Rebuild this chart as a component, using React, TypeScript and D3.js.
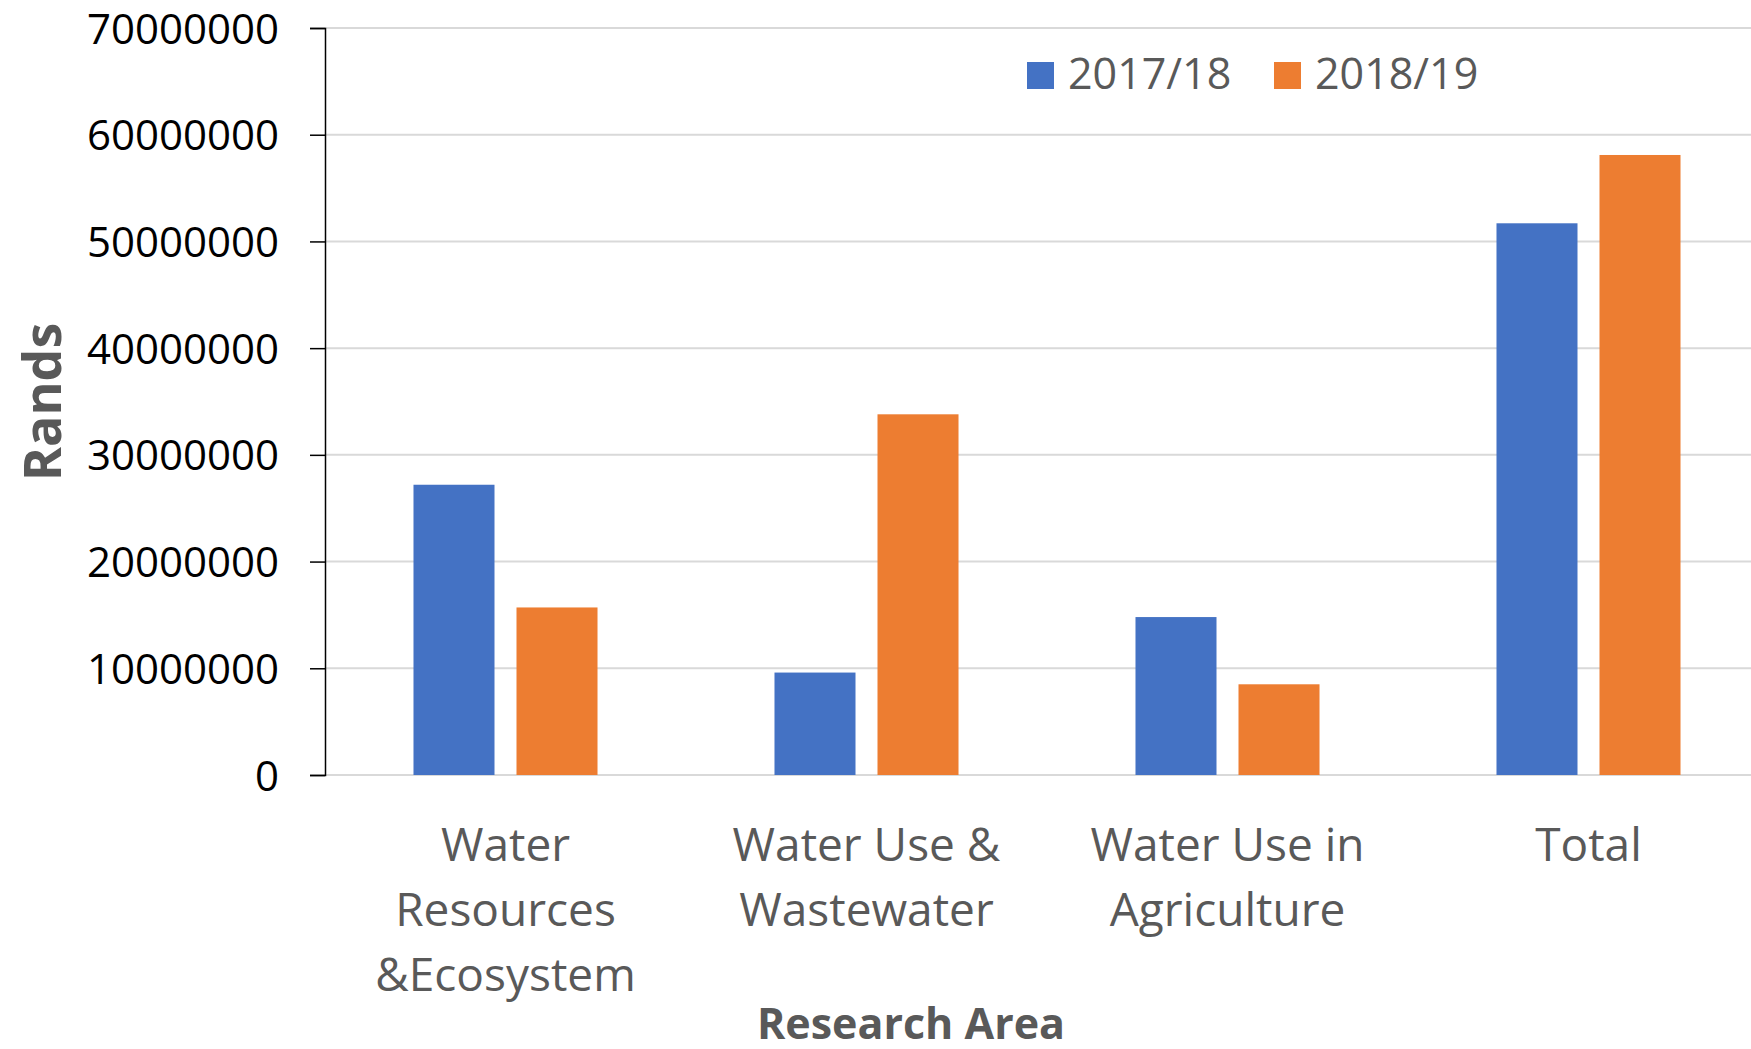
import React, { useEffect, useRef } from 'react';
import * as d3 from 'd3';

const categories = ['Water Resources &Ecosystem', 'Water Use & Wastewater', 'Water Use in Agriculture', 'Total'];
const categoryLines = [
  ['Water', 'Resources', '&Ecosystem'],
  ['Water Use &', 'Wastewater'],
  ['Water Use in', 'Agriculture'],
  ['Total'],
];
const seriesNames = ['2017/18', '2018/19'];
const values1718 = [27200000, 9600000, 14800000, 51700000];
const values1819 = [15700000, 33800000, 8500000, 58100000];
const yTicks = [0, 10000000, 20000000, 30000000, 40000000, 50000000, 60000000, 70000000];
const colors = ['#4472C4', '#ED7D31'];

const W = 1751;
const H = 1049;

const App = () => {
  const svgRef = useRef<SVGSVGElement>(null);

  useEffect(() => {
    const svg = d3.select(svgRef.current);
    svg.selectAll('*').remove();

    const left = 325;
    const top = 28;
    const bottom = 775;
    const bandW = 361;

    const y = d3.scaleLinear().domain([0, 70000000]).range([bottom, top]);
    const x = d3.scaleBand().domain(categories).range([left, left + bandW * categories.length]).padding(0);
    const xs = d3.scaleBand().domain(seriesNames).range([0, x.bandwidth()])
      .paddingInner(22 / 103).paddingOuter(0.859);

    // gridlines
    svg.append('g')
      .selectAll('line')
      .data(yTicks)
      .enter()
      .append('line')
      .attr('x1', left)
      .attr('x2', W)
      .attr('y1', d => y(d))
      .attr('y2', d => y(d))
      .attr('stroke', '#d9d9d9')
      .attr('stroke-width', 2);

    // y axis
    const yAxis = svg.append('g')
      .attr('transform', `translate(${left},0)`)
      .call(d3.axisLeft(y).tickValues(yTicks).tickSize(15).tickPadding(31).tickFormat(d => String(d)));
    yAxis.select('.domain').attr('stroke', '#000').attr('stroke-width', 1.5);
    yAxis.selectAll('.tick line').attr('stroke', '#000').attr('stroke-width', 1.5);
    yAxis.selectAll('.tick text')
      .attr('font-family', '"Open Sans", sans-serif')
      .attr('font-size', 42)
      .attr('fill', '#000')
      .attr('dy', '0.36em');

    // bars
    const data = [values1718, values1819];
    data.forEach((vals, si) => {
      svg.append('g')
        .selectAll('rect')
        .data(vals)
        .enter()
        .append('rect')
        .attr('x', (d, i) => (x(categories[i]) as number) + (xs(seriesNames[si]) as number))
        .attr('y', d => y(d))
        .attr('width', xs.bandwidth())
        .attr('height', d => bottom - y(d))
        .attr('fill', colors[si]);
    });

    // category labels
    const labels = svg.append('g')
      .attr('font-family', '"Open Sans", sans-serif')
      .attr('font-size', 46)
      .attr('fill', '#595959')
      .attr('text-anchor', 'middle');
    categoryLines.forEach((lines, i) => {
      const cx = (x(categories[i]) as number) + x.bandwidth() / 2;
      lines.forEach((line, li) => {
        labels.append('text')
          .attr('x', cx)
          .attr('y', 861 + li * 65)
          .text(line);
      });
    });

    // axis titles
    svg.append('text')
      .attr('x', 911)
      .attr('y', 1039)
      .attr('text-anchor', 'middle')
      .attr('font-family', '"Open Sans", sans-serif')
      .attr('font-weight', 'bold')
      .attr('font-size', 43)
      .attr('fill', '#595959')
      .text('Research Area');

    svg.append('text')
      .attr('transform', 'translate(61,402) rotate(-90)')
      .attr('text-anchor', 'middle')
      .attr('font-family', '"Open Sans", sans-serif')
      .attr('font-weight', 'bold')
      .attr('font-size', 52)
      .attr('fill', '#595959')
      .text('Rands');

    // legend
    const legendX = [1027, 1274];
    const legend = svg.append('g');
    seriesNames.forEach((name, i) => {
      legend.append('rect')
        .attr('x', legendX[i])
        .attr('y', 62)
        .attr('width', 27)
        .attr('height', 27)
        .attr('fill', colors[i]);
      legend.append('text')
        .attr('x', legendX[i] + 41)
        .attr('y', 89)
        .attr('font-family', '"Open Sans", sans-serif')
        .attr('font-size', 43)
        .attr('fill', '#595959')
        .text(name);
    });
  }, []);

  return (
    <svg
      ref={svgRef}
      width={W}
      height={H}
      style={{ position: 'absolute', left: 0, top: 0, background: '#fff' }}
    />
  );
};

export default App;
